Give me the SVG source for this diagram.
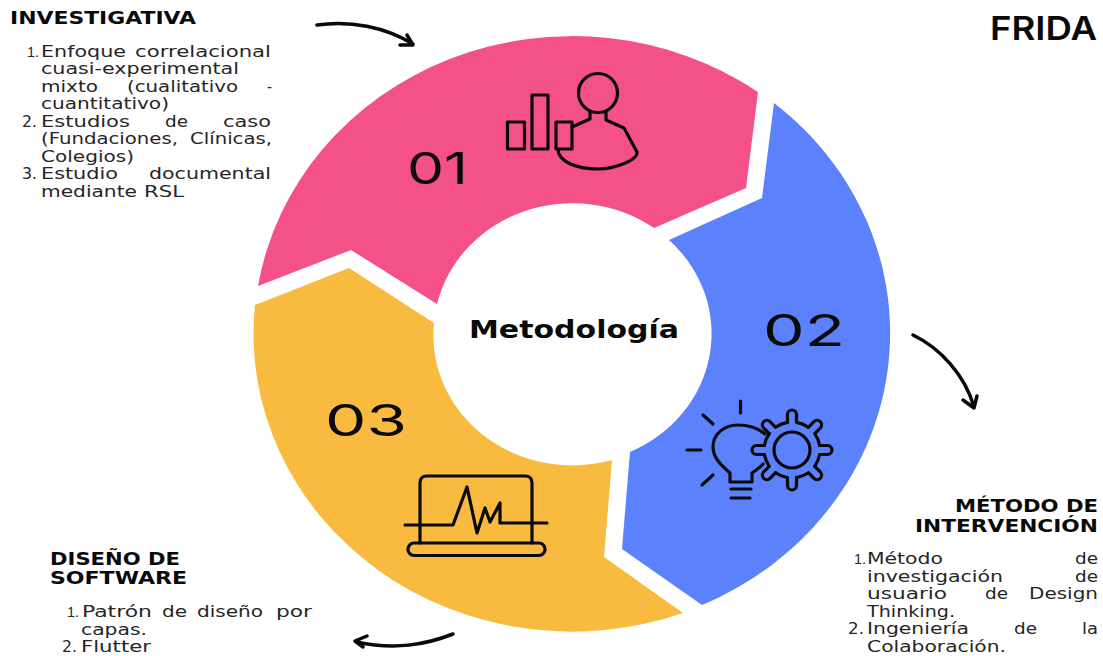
<svg xmlns="http://www.w3.org/2000/svg" width="1103" height="656" viewBox="0 0 1103 656">
<style>
.h{font-family:"DejaVu Sans",sans-serif;font-weight:700;font-size:17px;fill:#0a0a0a}
.l{font-family:"DejaVu Sans",sans-serif;font-size:15.5px;fill:#262626}
.o{font-family:"Liberation Sans",sans-serif;font-size:14.5px}
.n{font-family:Inter,sans-serif;font-size:44px;fill:#0a0a0a}
.i{fill:none;stroke:#0a0a0a;stroke-width:3.2;stroke-linecap:round;stroke-linejoin:round}
.a{fill:none;stroke:#0a0a0a;stroke-width:3.5;stroke-linecap:round;stroke-linejoin:round}
</style>
<defs>
<path id="tooth" d="M-4.5,-27.6 L-4.5,-35.5 A4.5 4.5 0 0 1 4.5,-35.5 L4.5,-27.6 A28 28 0 0 1 16.33,-22.7"/>
</defs>
<rect width="1103" height="656" fill="#fff"/>
<g id="seg-01">
<path fill="#f4518b" d="M258,286 A318.5 298 0 0 1 758,92 L746,188 L654,228 A139 130 0 0 0 437,304 L351,250 Z"/>
<text class="n" x="407" y="184" textLength="61" lengthAdjust="spacingAndGlyphs">01</text>
<g class="i">
<rect x="507.5" y="122" width="17" height="27"/>
<rect x="532" y="95" width="16" height="54"/>
<rect x="556" y="122" width="16" height="27"/>
<circle cx="598" cy="93" r="19.5"/>
<path d="M572,127 L590,119 L590,112 M606,112 L606,120 L624,128 L637,152 C638,160 615,169 598,169 C575,169 558,161 558,149"/>
</g>
</g>
<g id="seg-02">
<path fill="#5b82fc" d="M774,103 A318.5 298 0 0 1 702,605 L622,549 L630,452 A139 130 0 0 0 669,240 L762,198 Z"/>
<text class="n" x="763" y="346" textLength="82" lengthAdjust="spacingAndGlyphs">02</text>
<g class="i">
<path d="M765,434 C758,428 748,425 738,425 C724,425 713,434 713,447 C713,458 722,466 730,473 L730,482 L752,482 L752,473 C756,470 760,468 763,464"/>
<path d="M731,489 H751 M731,498 H750 M740.5,401 V413 M703,415 L713,424 M687,450 H701 M702,485 L713,475"/>
<g transform="translate(792,450)">
<use href="#tooth"/>
<use href="#tooth" transform="rotate(45)"/>
<use href="#tooth" transform="rotate(90)"/>
<use href="#tooth" transform="rotate(135)"/>
<use href="#tooth" transform="rotate(180)"/>
<use href="#tooth" transform="rotate(225)"/>
<use href="#tooth" transform="rotate(270)"/>
<use href="#tooth" transform="rotate(315)"/>
<circle r="18"/>
</g>
</g>
</g>
<g id="seg-03">
<path fill="#f9bb3f" d="M683,613 A318.5 298 0 0 1 255,305 L349,268 L434,323 A139 130 0 0 0 612,460 L604,557 Z"/>
<text class="n" x="325" y="436" textLength="82" lengthAdjust="spacingAndGlyphs">03</text>
<g class="i">
<path d="M420,543 V483 Q420,476 427,476 H525 Q532,476 532,483 V543"/>
<rect x="408" y="543" width="137" height="12.5" rx="6"/>
<path d="M405,525 H453 L467,487 L477,533 L485,508 L490,522 L500,503 V523 H547"/>
</g>
</g>
<g id="center">
<text x="469" y="338" font-family="DejaVu Sans, sans-serif" font-weight="700" font-size="25" fill="#0a0a0a" textLength="210" lengthAdjust="spacingAndGlyphs">Metodología</text>
</g>
<g id="title"><text x="990" y="40" font-family="Inter, sans-serif" font-weight="600" font-size="33" fill="#0a0a0a" textLength="107" lengthAdjust="spacingAndGlyphs">FRIDA</text></g>
<g id="investigativa">
<text class="h" x="10" y="24" textLength="186" lengthAdjust="spacingAndGlyphs">INVESTIGATIVA</text>
<text class="l" y="57"><tspan class="o" x="27">1.</tspan> <tspan x="41" textLength="85" lengthAdjust="spacingAndGlyphs">Enfoque</tspan> <tspan x="135" textLength="136" lengthAdjust="spacingAndGlyphs">correlacional</tspan></text>
<text class="l" x="41" y="74" textLength="198" lengthAdjust="spacingAndGlyphs">cuasi-experimental</text>
<text class="l" y="92"><tspan x="41" textLength="57" lengthAdjust="spacingAndGlyphs">mixto</tspan> <tspan x="127" textLength="111" lengthAdjust="spacingAndGlyphs">(cualitativo</tspan> <tspan x="267" textLength="5" lengthAdjust="spacingAndGlyphs">-</tspan></text>
<text class="l" x="41" y="109" textLength="128" lengthAdjust="spacingAndGlyphs">cuantitativo)</text>
<text class="l" y="127"><tspan x="22" textLength="15" lengthAdjust="spacingAndGlyphs">2.</tspan> <tspan x="41" textLength="89" lengthAdjust="spacingAndGlyphs">Estudios</tspan> <tspan x="165" textLength="23" lengthAdjust="spacingAndGlyphs">de</tspan> <tspan x="223" textLength="48" lengthAdjust="spacingAndGlyphs">caso</tspan></text>
<text class="l" y="144"><tspan x="41" textLength="137" lengthAdjust="spacingAndGlyphs">(Fundaciones,</tspan> <tspan x="190" textLength="82" lengthAdjust="spacingAndGlyphs">Clínicas,</tspan></text>
<text class="l" x="41" y="162" textLength="93" lengthAdjust="spacingAndGlyphs">Colegios)</text>
<text class="l" y="179"><tspan x="22" textLength="15" lengthAdjust="spacingAndGlyphs">3.</tspan> <tspan x="41" textLength="77" lengthAdjust="spacingAndGlyphs">Estudio</tspan> <tspan x="149" textLength="122" lengthAdjust="spacingAndGlyphs">documental</tspan></text>
<text class="l" y="197"><tspan x="41" textLength="96" lengthAdjust="spacingAndGlyphs">mediante</tspan> <tspan x="144" textLength="40" lengthAdjust="spacingAndGlyphs">RSL</tspan></text>
</g>
<g id="metodo">
<text class="h" x="955" y="512" textLength="143" lengthAdjust="spacingAndGlyphs">MÉTODO DE</text>
<text class="h" x="915" y="532" textLength="183" lengthAdjust="spacingAndGlyphs">INTERVENCIÓN</text>
<text class="l" y="564"><tspan class="o" x="854">1.</tspan> <tspan x="867" textLength="76" lengthAdjust="spacingAndGlyphs">Método</tspan> <tspan x="1075" textLength="23" lengthAdjust="spacingAndGlyphs">de</tspan></text>
<text class="l" y="582"><tspan x="867" textLength="136" lengthAdjust="spacingAndGlyphs">investigación</tspan> <tspan x="1075" textLength="23" lengthAdjust="spacingAndGlyphs">de</tspan></text>
<text class="l" y="599"><tspan x="867" textLength="80" lengthAdjust="spacingAndGlyphs">usuario</tspan> <tspan x="985" textLength="23" lengthAdjust="spacingAndGlyphs">de</tspan> <tspan x="1029" textLength="69" lengthAdjust="spacingAndGlyphs">Design</tspan></text>
<text class="l" x="867" y="617" textLength="88" lengthAdjust="spacingAndGlyphs">Thinking.</text>
<text class="l" y="634"><tspan x="848" textLength="16" lengthAdjust="spacingAndGlyphs">2.</tspan> <tspan x="867" textLength="102" lengthAdjust="spacingAndGlyphs">Ingeniería</tspan> <tspan x="1014" textLength="23" lengthAdjust="spacingAndGlyphs">de</tspan> <tspan x="1082" textLength="16" lengthAdjust="spacingAndGlyphs">la</tspan></text>
<text class="l" x="867" y="652" textLength="139" lengthAdjust="spacingAndGlyphs">Colaboración.</text>
</g>
<g id="software">
<text class="h" x="50" y="565" textLength="130" lengthAdjust="spacingAndGlyphs">DISEÑO DE</text>
<text class="h" x="50" y="584" textLength="137" lengthAdjust="spacingAndGlyphs">SOFTWARE</text>
<text class="l" y="617"><tspan class="o" x="67">1.</tspan> <tspan x="82" textLength="70" lengthAdjust="spacingAndGlyphs">Patrón</tspan> <tspan x="162" textLength="25" lengthAdjust="spacingAndGlyphs">de</tspan> <tspan x="197" textLength="66" lengthAdjust="spacingAndGlyphs">diseño</tspan> <tspan x="276" textLength="36" lengthAdjust="spacingAndGlyphs">por</tspan></text>
<text class="l" x="81" y="635" textLength="66" lengthAdjust="spacingAndGlyphs">capas.</text>
<text class="l" y="652"><tspan x="62" textLength="15" lengthAdjust="spacingAndGlyphs">2.</tspan> <tspan x="81" textLength="70" lengthAdjust="spacingAndGlyphs">Flutter</tspan></text>
</g>
<g id="connectors">
<path class="a" d="M317,25 C350,20 385,27 413,44 M400,45 L413,45 L407,35"/>
<path class="a" d="M913,335 C940,348 965,375 974,407 M963,400 L974,408 L977,396"/>
<path class="a" d="M453,634 C425,645 395,650 356,642 M367,636 L355,641 L363,647"/>
</g>
</svg>
